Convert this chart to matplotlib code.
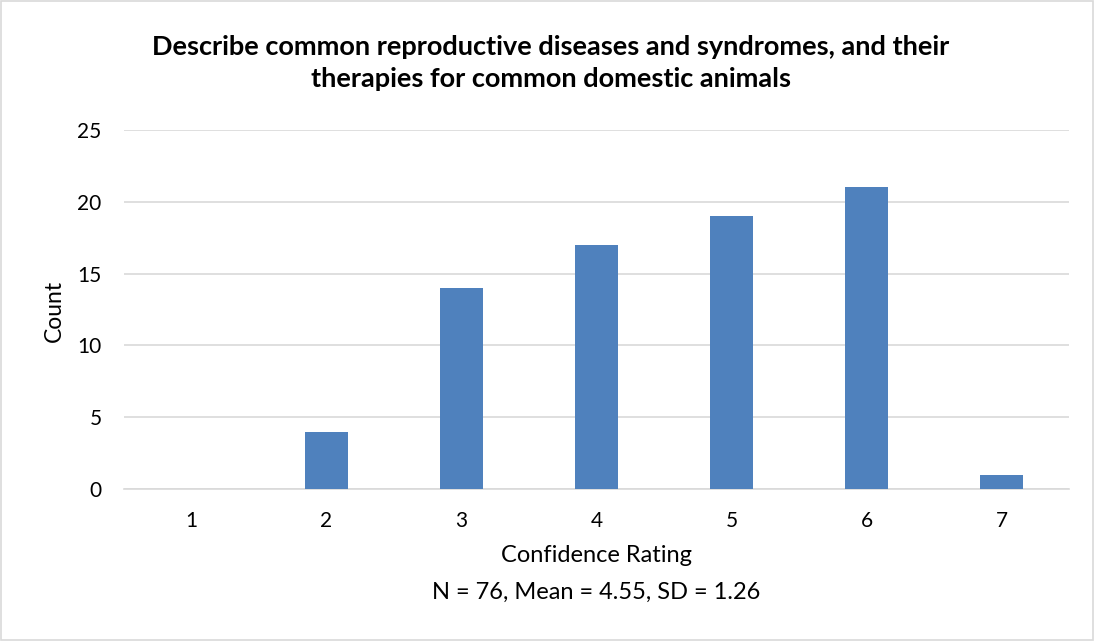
import matplotlib.pyplot as plt
from matplotlib.patches import Rectangle

ratings = ["1", "2", "3", "4", "5", "6", "7"]
counts = [0, 4, 14, 17, 19, 21, 1]
title = "Describe common reproductive diseases and syndromes, and their\ntherapies for common domestic animals"
stats = "N = 76, Mean = 4.55, SD = 1.26"

plt.rcParams["font.family"] = ["Lato", "DejaVu Sans"]

fig = plt.figure(figsize=(10.95, 6.41), dpi=100)
ax = fig.add_axes([0.1132, 0.2371, 0.8631, 0.5601])

x = list(range(len(ratings)))
ax.bar(x, counts, width=0.32, color="#4F81BD", zorder=3)
ax.set_xlim(-0.5, len(ratings) - 0.5)
ax.set_ylim(0, 25)
ax.set_yticks(range(0, 26, 5))
ax.set_xticks(x)
ax.set_xticklabels(ratings)
ax.grid(axis="y", color="#D9D9D9", linewidth=1.2, zorder=0)
for s in ["top", "right", "left"]:
    ax.spines[s].set_visible(False)
ax.spines["bottom"].set_color("#D9D9D9")
ax.spines["bottom"].set_linewidth(1.2)
ax.tick_params(length=0, labelsize=15, colors="#000000")
ax.tick_params(axis="x", pad=16)
ax.tick_params(axis="y", pad=16)

# x label and stats line sit under the centre of the plot area
xc = 0.1132 + 0.8631 / 2
fig.text(0.05, 0.515, "Count", ha="center", va="center", rotation=90, fontsize=16.5)
fig.text(xc, 0.133, "Confidence Rating", ha="center", va="center", fontsize=17)
fig.text(xc, 0.076, stats, ha="center", va="center", fontsize=17)
fig.text(0.503, 0.902, title, ha="center", va="center", fontsize=19.5,
         fontweight="bold", linespacing=1.37)

fig.patches.append(Rectangle((0.001, 0.002), 0.997, 0.996, transform=fig.transFigure,
                             fill=False, edgecolor="#D9D9D9", linewidth=1.2))

fig.savefig("out.png", dpi=100)
